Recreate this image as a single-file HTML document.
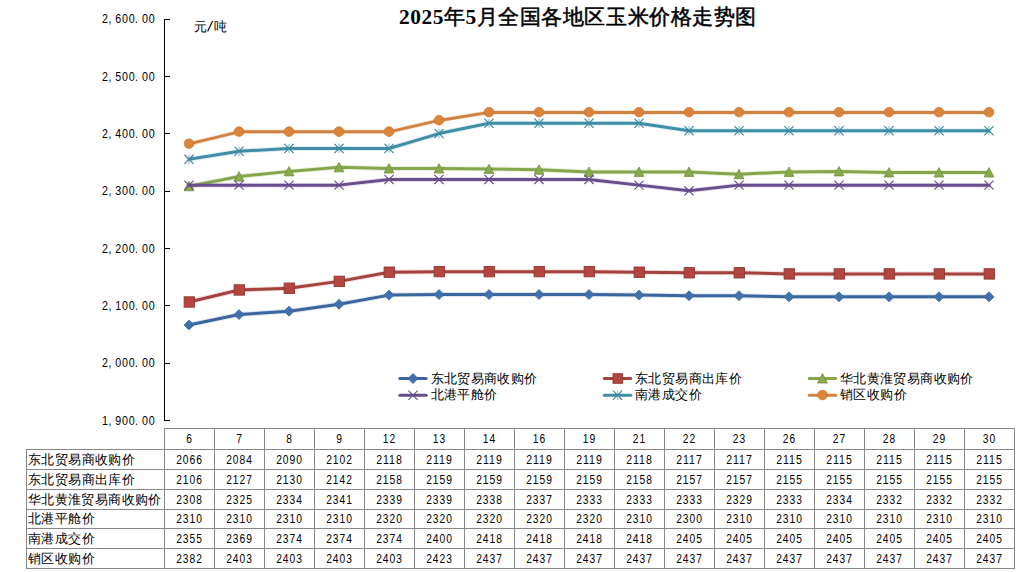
<!DOCTYPE html>
<html><head><meta charset="utf-8"><style>
html,body{margin:0;padding:0;background:#fff;}
body{width:1017px;height:572px;overflow:hidden;position:relative;}
svg{position:absolute;left:0;top:0;}
.t{font-family:"Liberation Serif",serif;font-weight:bold;font-size:21.33px;fill:#000;}
.m{font-family:"Liberation Mono",monospace;font-size:13.5px;fill:#000;}
.n{font-family:"Liberation Sans",sans-serif;font-size:12.6px;fill:#000;}
.c{font-family:"Liberation Sans",sans-serif;font-size:13.33px;fill:#000;}
</style></head><body>
<svg width="1017" height="572" viewBox="0 0 1017 572">
<text class="t" x="578" y="24" text-anchor="middle" letter-spacing="0.55"><tspan>2025</tspan><tspan font-weight="normal" stroke="#000" stroke-width="0.5">年</tspan><tspan>5</tspan><tspan font-weight="normal" stroke="#000" stroke-width="0.5">月全国各地区玉米价格走势图</tspan></text>
<text class="c" x="194" y="31">元</text><path d="M207.6 31.6L212.6 21" stroke="#000" stroke-width="1.1" fill="none"/><text class="c" x="214" y="31">吨</text>
<path d="M164.5 19V420.5" stroke="#000" stroke-width="1" fill="none"/>
<path d="M164 19.5H170" stroke="#000" stroke-width="1"/>
<text class="n" transform="scale(0.85,1)" x="120.02 127.57 135.70 143.55 151.39 158.94 167.08 174.92" y="23">2,600.00</text>
<path d="M164 76.5H170" stroke="#000" stroke-width="1"/>
<text class="n" transform="scale(0.85,1)" x="120.02 127.57 135.70 143.55 151.39 158.94 167.08 174.92" y="81">2,500.00</text>
<path d="M164 133.5H170" stroke="#000" stroke-width="1"/>
<text class="n" transform="scale(0.85,1)" x="120.02 127.57 135.70 143.55 151.39 158.94 167.08 174.92" y="138">2,400.00</text>
<path d="M164 191.5H170" stroke="#000" stroke-width="1"/>
<text class="n" transform="scale(0.85,1)" x="120.02 127.57 135.70 143.55 151.39 158.94 167.08 174.92" y="195">2,300.00</text>
<path d="M164 248.5H170" stroke="#000" stroke-width="1"/>
<text class="n" transform="scale(0.85,1)" x="120.02 127.57 135.70 143.55 151.39 158.94 167.08 174.92" y="253">2,200.00</text>
<path d="M164 305.5H170" stroke="#000" stroke-width="1"/>
<text class="n" transform="scale(0.85,1)" x="120.02 127.57 135.70 143.55 151.39 158.94 167.08 174.92" y="310">2,100.00</text>
<path d="M164 363.5H170" stroke="#000" stroke-width="1"/>
<text class="n" transform="scale(0.85,1)" x="120.02 127.57 135.70 143.55 151.39 158.94 167.08 174.92" y="367">2,000.00</text>
<path d="M164 420.5H170" stroke="#000" stroke-width="1"/>
<text class="n" transform="scale(0.85,1)" x="120.02 127.57 135.70 143.55 151.39 158.94 167.08 174.92" y="425">1,900.00</text>
<polyline points="189.00,324.91 239.00,314.59 289.00,311.16 339.00,304.28 389.00,295.12 439.00,294.54 489.00,294.54 539.00,294.54 589.00,294.54 639.00,295.12 689.00,295.69 739.00,295.69 789.00,296.84 839.00,296.84 889.00,296.84 939.00,296.84 989.00,296.84" fill="none" stroke="#4172ad" stroke-opacity="0.18" stroke-width="5" stroke-linejoin="round" stroke-linecap="round"/>
<polyline points="189.00,324.91 239.00,314.59 289.00,311.16 339.00,304.28 389.00,295.12 439.00,294.54 489.00,294.54 539.00,294.54 589.00,294.54 639.00,295.12 689.00,295.69 739.00,295.69 789.00,296.84 839.00,296.84 889.00,296.84 939.00,296.84 989.00,296.84" fill="none" stroke="#3b669d" stroke-width="3" stroke-linejoin="round" stroke-linecap="round"/>
<path d="M189.00 319.91L194.00 324.91L189.00 329.91L184.00 324.91Z" fill="#4172ad" stroke="#3b669d" stroke-width="0.8"/>
<path d="M239.00 309.59L244.00 314.59L239.00 319.59L234.00 314.59Z" fill="#4172ad" stroke="#3b669d" stroke-width="0.8"/>
<path d="M289.00 306.16L294.00 311.16L289.00 316.16L284.00 311.16Z" fill="#4172ad" stroke="#3b669d" stroke-width="0.8"/>
<path d="M339.00 299.28L344.00 304.28L339.00 309.28L334.00 304.28Z" fill="#4172ad" stroke="#3b669d" stroke-width="0.8"/>
<path d="M389.00 290.12L394.00 295.12L389.00 300.12L384.00 295.12Z" fill="#4172ad" stroke="#3b669d" stroke-width="0.8"/>
<path d="M439.00 289.54L444.00 294.54L439.00 299.54L434.00 294.54Z" fill="#4172ad" stroke="#3b669d" stroke-width="0.8"/>
<path d="M489.00 289.54L494.00 294.54L489.00 299.54L484.00 294.54Z" fill="#4172ad" stroke="#3b669d" stroke-width="0.8"/>
<path d="M539.00 289.54L544.00 294.54L539.00 299.54L534.00 294.54Z" fill="#4172ad" stroke="#3b669d" stroke-width="0.8"/>
<path d="M589.00 289.54L594.00 294.54L589.00 299.54L584.00 294.54Z" fill="#4172ad" stroke="#3b669d" stroke-width="0.8"/>
<path d="M639.00 290.12L644.00 295.12L639.00 300.12L634.00 295.12Z" fill="#4172ad" stroke="#3b669d" stroke-width="0.8"/>
<path d="M689.00 290.69L694.00 295.69L689.00 300.69L684.00 295.69Z" fill="#4172ad" stroke="#3b669d" stroke-width="0.8"/>
<path d="M739.00 290.69L744.00 295.69L739.00 300.69L734.00 295.69Z" fill="#4172ad" stroke="#3b669d" stroke-width="0.8"/>
<path d="M789.00 291.84L794.00 296.84L789.00 301.84L784.00 296.84Z" fill="#4172ad" stroke="#3b669d" stroke-width="0.8"/>
<path d="M839.00 291.84L844.00 296.84L839.00 301.84L834.00 296.84Z" fill="#4172ad" stroke="#3b669d" stroke-width="0.8"/>
<path d="M889.00 291.84L894.00 296.84L889.00 301.84L884.00 296.84Z" fill="#4172ad" stroke="#3b669d" stroke-width="0.8"/>
<path d="M939.00 291.84L944.00 296.84L939.00 301.84L934.00 296.84Z" fill="#4172ad" stroke="#3b669d" stroke-width="0.8"/>
<path d="M989.00 291.84L994.00 296.84L989.00 301.84L984.00 296.84Z" fill="#4172ad" stroke="#3b669d" stroke-width="0.8"/>
<polyline points="189.00,301.99 239.00,289.96 289.00,288.24 339.00,281.37 389.00,272.20 439.00,271.63 489.00,271.63 539.00,271.63 589.00,271.63 639.00,272.20 689.00,272.78 739.00,272.78 789.00,273.92 839.00,273.92 889.00,273.92 939.00,273.92 989.00,273.92" fill="none" stroke="#b4463f" stroke-opacity="0.18" stroke-width="5" stroke-linejoin="round" stroke-linecap="round"/>
<polyline points="189.00,301.99 239.00,289.96 289.00,288.24 339.00,281.37 389.00,272.20 439.00,271.63 489.00,271.63 539.00,271.63 589.00,271.63 639.00,272.20 689.00,272.78 739.00,272.78 789.00,273.92 839.00,273.92 889.00,273.92 939.00,273.92 989.00,273.92" fill="none" stroke="#a4423e" stroke-width="3" stroke-linejoin="round" stroke-linecap="round"/>
<rect x="184.10" y="296.79" width="10.40" height="10.40" fill="#b4463f" stroke="#8e3834" stroke-width="0.9"/>
<rect x="234.10" y="284.76" width="10.40" height="10.40" fill="#b4463f" stroke="#8e3834" stroke-width="0.9"/>
<rect x="284.10" y="283.04" width="10.40" height="10.40" fill="#b4463f" stroke="#8e3834" stroke-width="0.9"/>
<rect x="334.10" y="276.17" width="10.40" height="10.40" fill="#b4463f" stroke="#8e3834" stroke-width="0.9"/>
<rect x="384.10" y="267.00" width="10.40" height="10.40" fill="#b4463f" stroke="#8e3834" stroke-width="0.9"/>
<rect x="434.10" y="266.43" width="10.40" height="10.40" fill="#b4463f" stroke="#8e3834" stroke-width="0.9"/>
<rect x="484.10" y="266.43" width="10.40" height="10.40" fill="#b4463f" stroke="#8e3834" stroke-width="0.9"/>
<rect x="534.10" y="266.43" width="10.40" height="10.40" fill="#b4463f" stroke="#8e3834" stroke-width="0.9"/>
<rect x="584.10" y="266.43" width="10.40" height="10.40" fill="#b4463f" stroke="#8e3834" stroke-width="0.9"/>
<rect x="634.10" y="267.00" width="10.40" height="10.40" fill="#b4463f" stroke="#8e3834" stroke-width="0.9"/>
<rect x="684.10" y="267.58" width="10.40" height="10.40" fill="#b4463f" stroke="#8e3834" stroke-width="0.9"/>
<rect x="734.10" y="267.58" width="10.40" height="10.40" fill="#b4463f" stroke="#8e3834" stroke-width="0.9"/>
<rect x="784.10" y="268.72" width="10.40" height="10.40" fill="#b4463f" stroke="#8e3834" stroke-width="0.9"/>
<rect x="834.10" y="268.72" width="10.40" height="10.40" fill="#b4463f" stroke="#8e3834" stroke-width="0.9"/>
<rect x="884.10" y="268.72" width="10.40" height="10.40" fill="#b4463f" stroke="#8e3834" stroke-width="0.9"/>
<rect x="934.10" y="268.72" width="10.40" height="10.40" fill="#b4463f" stroke="#8e3834" stroke-width="0.9"/>
<rect x="984.10" y="268.72" width="10.40" height="10.40" fill="#b4463f" stroke="#8e3834" stroke-width="0.9"/>
<polyline points="189.00,186.27 239.00,176.54 289.00,171.38 339.00,167.37 389.00,168.52 439.00,168.52 489.00,169.09 539.00,169.66 589.00,171.95 639.00,171.95 689.00,171.95 739.00,174.24 789.00,171.95 839.00,171.38 889.00,172.53 939.00,172.53 989.00,172.53" fill="none" stroke="#89ab4c" stroke-opacity="0.18" stroke-width="5" stroke-linejoin="round" stroke-linecap="round"/>
<polyline points="189.00,186.27 239.00,176.54 289.00,171.38 339.00,167.37 389.00,168.52 439.00,168.52 489.00,169.09 539.00,169.66 589.00,171.95 639.00,171.95 689.00,171.95 739.00,174.24 789.00,171.95 839.00,171.38 889.00,172.53 939.00,172.53 989.00,172.53" fill="none" stroke="#86a64b" stroke-width="3" stroke-linejoin="round" stroke-linecap="round"/>
<path d="M189.00 181.37L193.90 190.77L184.10 190.77Z" fill="#89ab4c" stroke="#728f40" stroke-width="0.8"/>
<path d="M239.00 171.64L243.90 181.04L234.10 181.04Z" fill="#89ab4c" stroke="#728f40" stroke-width="0.8"/>
<path d="M289.00 166.48L293.90 175.88L284.10 175.88Z" fill="#89ab4c" stroke="#728f40" stroke-width="0.8"/>
<path d="M339.00 162.47L343.90 171.87L334.10 171.87Z" fill="#89ab4c" stroke="#728f40" stroke-width="0.8"/>
<path d="M389.00 163.62L393.90 173.02L384.10 173.02Z" fill="#89ab4c" stroke="#728f40" stroke-width="0.8"/>
<path d="M439.00 163.62L443.90 173.02L434.10 173.02Z" fill="#89ab4c" stroke="#728f40" stroke-width="0.8"/>
<path d="M489.00 164.19L493.90 173.59L484.10 173.59Z" fill="#89ab4c" stroke="#728f40" stroke-width="0.8"/>
<path d="M539.00 164.76L543.90 174.16L534.10 174.16Z" fill="#89ab4c" stroke="#728f40" stroke-width="0.8"/>
<path d="M589.00 167.05L593.90 176.45L584.10 176.45Z" fill="#89ab4c" stroke="#728f40" stroke-width="0.8"/>
<path d="M639.00 167.05L643.90 176.45L634.10 176.45Z" fill="#89ab4c" stroke="#728f40" stroke-width="0.8"/>
<path d="M689.00 167.05L693.90 176.45L684.10 176.45Z" fill="#89ab4c" stroke="#728f40" stroke-width="0.8"/>
<path d="M739.00 169.34L743.90 178.74L734.10 178.74Z" fill="#89ab4c" stroke="#728f40" stroke-width="0.8"/>
<path d="M789.00 167.05L793.90 176.45L784.10 176.45Z" fill="#89ab4c" stroke="#728f40" stroke-width="0.8"/>
<path d="M839.00 166.48L843.90 175.88L834.10 175.88Z" fill="#89ab4c" stroke="#728f40" stroke-width="0.8"/>
<path d="M889.00 167.63L893.90 177.03L884.10 177.03Z" fill="#89ab4c" stroke="#728f40" stroke-width="0.8"/>
<path d="M939.00 167.63L943.90 177.03L934.10 177.03Z" fill="#89ab4c" stroke="#728f40" stroke-width="0.8"/>
<path d="M989.00 167.63L993.90 177.03L984.10 177.03Z" fill="#89ab4c" stroke="#728f40" stroke-width="0.8"/>
<polyline points="189.00,185.13 239.00,185.13 289.00,185.13 339.00,185.13 389.00,179.40 439.00,179.40 489.00,179.40 539.00,179.40 589.00,179.40 639.00,185.13 689.00,190.86 739.00,185.13 789.00,185.13 839.00,185.13 889.00,185.13 939.00,185.13 989.00,185.13" fill="none" stroke="#7d60a0" stroke-opacity="0.18" stroke-width="5" stroke-linejoin="round" stroke-linecap="round"/>
<polyline points="189.00,185.13 239.00,185.13 289.00,185.13 339.00,185.13 389.00,179.40 439.00,179.40 489.00,179.40 539.00,179.40 589.00,179.40 639.00,185.13 689.00,190.86 739.00,185.13 789.00,185.13 839.00,185.13 889.00,185.13 939.00,185.13 989.00,185.13" fill="none" stroke="#684d8b" stroke-width="3" stroke-linejoin="round" stroke-linecap="round"/>
<path d="M184.40 180.53L193.60 189.73M193.60 180.53L184.40 189.73" stroke="#684d8b" stroke-width="1.1" fill="none"/>
<path d="M234.40 180.53L243.60 189.73M243.60 180.53L234.40 189.73" stroke="#684d8b" stroke-width="1.1" fill="none"/>
<path d="M284.40 180.53L293.60 189.73M293.60 180.53L284.40 189.73" stroke="#684d8b" stroke-width="1.1" fill="none"/>
<path d="M334.40 180.53L343.60 189.73M343.60 180.53L334.40 189.73" stroke="#684d8b" stroke-width="1.1" fill="none"/>
<path d="M384.40 174.80L393.60 184.00M393.60 174.80L384.40 184.00" stroke="#684d8b" stroke-width="1.1" fill="none"/>
<path d="M434.40 174.80L443.60 184.00M443.60 174.80L434.40 184.00" stroke="#684d8b" stroke-width="1.1" fill="none"/>
<path d="M484.40 174.80L493.60 184.00M493.60 174.80L484.40 184.00" stroke="#684d8b" stroke-width="1.1" fill="none"/>
<path d="M534.40 174.80L543.60 184.00M543.60 174.80L534.40 184.00" stroke="#684d8b" stroke-width="1.1" fill="none"/>
<path d="M584.40 174.80L593.60 184.00M593.60 174.80L584.40 184.00" stroke="#684d8b" stroke-width="1.1" fill="none"/>
<path d="M634.40 180.53L643.60 189.73M643.60 180.53L634.40 189.73" stroke="#684d8b" stroke-width="1.1" fill="none"/>
<path d="M684.40 186.26L693.60 195.46M693.60 186.26L684.40 195.46" stroke="#684d8b" stroke-width="1.1" fill="none"/>
<path d="M734.40 180.53L743.60 189.73M743.60 180.53L734.40 189.73" stroke="#684d8b" stroke-width="1.1" fill="none"/>
<path d="M784.40 180.53L793.60 189.73M793.60 180.53L784.40 189.73" stroke="#684d8b" stroke-width="1.1" fill="none"/>
<path d="M834.40 180.53L843.60 189.73M843.60 180.53L834.40 189.73" stroke="#684d8b" stroke-width="1.1" fill="none"/>
<path d="M884.40 180.53L893.60 189.73M893.60 180.53L884.40 189.73" stroke="#684d8b" stroke-width="1.1" fill="none"/>
<path d="M934.40 180.53L943.60 189.73M943.60 180.53L934.40 189.73" stroke="#684d8b" stroke-width="1.1" fill="none"/>
<path d="M984.40 180.53L993.60 189.73M993.60 180.53L984.40 189.73" stroke="#684d8b" stroke-width="1.1" fill="none"/>
<polyline points="189.00,159.35 239.00,151.33 289.00,148.47 339.00,148.47 389.00,148.47 439.00,133.57 489.00,123.26 539.00,123.26 589.00,123.26 639.00,123.26 689.00,130.71 739.00,130.71 789.00,130.71 839.00,130.71 889.00,130.71 939.00,130.71 989.00,130.71" fill="none" stroke="#4bacc6" stroke-opacity="0.18" stroke-width="5" stroke-linejoin="round" stroke-linecap="round"/>
<polyline points="189.00,159.35 239.00,151.33 289.00,148.47 339.00,148.47 389.00,148.47 439.00,133.57 489.00,123.26 539.00,123.26 589.00,123.26 639.00,123.26 689.00,130.71 739.00,130.71 789.00,130.71 839.00,130.71 889.00,130.71 939.00,130.71 989.00,130.71" fill="none" stroke="#3f8ea5" stroke-width="3" stroke-linejoin="round" stroke-linecap="round"/>
<path d="M189.00 154.75L189.00 163.95" stroke="#8ccbdd" stroke-width="1.3" fill="none"/><path d="M184.40 154.75L193.60 163.95M193.60 154.75L184.40 163.95" stroke="#3d8297" stroke-width="1.1" fill="none"/>
<path d="M239.00 146.73L239.00 155.93" stroke="#8ccbdd" stroke-width="1.3" fill="none"/><path d="M234.40 146.73L243.60 155.93M243.60 146.73L234.40 155.93" stroke="#3d8297" stroke-width="1.1" fill="none"/>
<path d="M289.00 143.87L289.00 153.07" stroke="#8ccbdd" stroke-width="1.3" fill="none"/><path d="M284.40 143.87L293.60 153.07M293.60 143.87L284.40 153.07" stroke="#3d8297" stroke-width="1.1" fill="none"/>
<path d="M339.00 143.87L339.00 153.07" stroke="#8ccbdd" stroke-width="1.3" fill="none"/><path d="M334.40 143.87L343.60 153.07M343.60 143.87L334.40 153.07" stroke="#3d8297" stroke-width="1.1" fill="none"/>
<path d="M389.00 143.87L389.00 153.07" stroke="#8ccbdd" stroke-width="1.3" fill="none"/><path d="M384.40 143.87L393.60 153.07M393.60 143.87L384.40 153.07" stroke="#3d8297" stroke-width="1.1" fill="none"/>
<path d="M439.00 128.97L439.00 138.17" stroke="#8ccbdd" stroke-width="1.3" fill="none"/><path d="M434.40 128.97L443.60 138.17M443.60 128.97L434.40 138.17" stroke="#3d8297" stroke-width="1.1" fill="none"/>
<path d="M489.00 118.66L489.00 127.86" stroke="#8ccbdd" stroke-width="1.3" fill="none"/><path d="M484.40 118.66L493.60 127.86M493.60 118.66L484.40 127.86" stroke="#3d8297" stroke-width="1.1" fill="none"/>
<path d="M539.00 118.66L539.00 127.86" stroke="#8ccbdd" stroke-width="1.3" fill="none"/><path d="M534.40 118.66L543.60 127.86M543.60 118.66L534.40 127.86" stroke="#3d8297" stroke-width="1.1" fill="none"/>
<path d="M589.00 118.66L589.00 127.86" stroke="#8ccbdd" stroke-width="1.3" fill="none"/><path d="M584.40 118.66L593.60 127.86M593.60 118.66L584.40 127.86" stroke="#3d8297" stroke-width="1.1" fill="none"/>
<path d="M639.00 118.66L639.00 127.86" stroke="#8ccbdd" stroke-width="1.3" fill="none"/><path d="M634.40 118.66L643.60 127.86M643.60 118.66L634.40 127.86" stroke="#3d8297" stroke-width="1.1" fill="none"/>
<path d="M689.00 126.11L689.00 135.31" stroke="#8ccbdd" stroke-width="1.3" fill="none"/><path d="M684.40 126.11L693.60 135.31M693.60 126.11L684.40 135.31" stroke="#3d8297" stroke-width="1.1" fill="none"/>
<path d="M739.00 126.11L739.00 135.31" stroke="#8ccbdd" stroke-width="1.3" fill="none"/><path d="M734.40 126.11L743.60 135.31M743.60 126.11L734.40 135.31" stroke="#3d8297" stroke-width="1.1" fill="none"/>
<path d="M789.00 126.11L789.00 135.31" stroke="#8ccbdd" stroke-width="1.3" fill="none"/><path d="M784.40 126.11L793.60 135.31M793.60 126.11L784.40 135.31" stroke="#3d8297" stroke-width="1.1" fill="none"/>
<path d="M839.00 126.11L839.00 135.31" stroke="#8ccbdd" stroke-width="1.3" fill="none"/><path d="M834.40 126.11L843.60 135.31M843.60 126.11L834.40 135.31" stroke="#3d8297" stroke-width="1.1" fill="none"/>
<path d="M889.00 126.11L889.00 135.31" stroke="#8ccbdd" stroke-width="1.3" fill="none"/><path d="M884.40 126.11L893.60 135.31M893.60 126.11L884.40 135.31" stroke="#3d8297" stroke-width="1.1" fill="none"/>
<path d="M939.00 126.11L939.00 135.31" stroke="#8ccbdd" stroke-width="1.3" fill="none"/><path d="M934.40 126.11L943.60 135.31M943.60 126.11L934.40 135.31" stroke="#3d8297" stroke-width="1.1" fill="none"/>
<path d="M989.00 126.11L989.00 135.31" stroke="#8ccbdd" stroke-width="1.3" fill="none"/><path d="M984.40 126.11L993.60 135.31M993.60 126.11L984.40 135.31" stroke="#3d8297" stroke-width="1.1" fill="none"/>
<polyline points="189.00,143.88 239.00,131.85 289.00,131.85 339.00,131.85 389.00,131.85 439.00,120.40 489.00,112.38 539.00,112.38 589.00,112.38 639.00,112.38 689.00,112.38 739.00,112.38 789.00,112.38 839.00,112.38 889.00,112.38 939.00,112.38 989.00,112.38" fill="none" stroke="#de8439" stroke-opacity="0.18" stroke-width="5" stroke-linejoin="round" stroke-linecap="round"/>
<polyline points="189.00,143.88 239.00,131.85 289.00,131.85 339.00,131.85 389.00,131.85 439.00,120.40 489.00,112.38 539.00,112.38 589.00,112.38 639.00,112.38 689.00,112.38 739.00,112.38 789.00,112.38 839.00,112.38 889.00,112.38 939.00,112.38 989.00,112.38" fill="none" stroke="#cf8242" stroke-width="3" stroke-linejoin="round" stroke-linecap="round"/>
<circle cx="189.00" cy="143.68" r="4.8" fill="#de8439" stroke="#c0732f" stroke-width="0.7"/>
<circle cx="239.00" cy="131.65" r="4.8" fill="#de8439" stroke="#c0732f" stroke-width="0.7"/>
<circle cx="289.00" cy="131.65" r="4.8" fill="#de8439" stroke="#c0732f" stroke-width="0.7"/>
<circle cx="339.00" cy="131.65" r="4.8" fill="#de8439" stroke="#c0732f" stroke-width="0.7"/>
<circle cx="389.00" cy="131.65" r="4.8" fill="#de8439" stroke="#c0732f" stroke-width="0.7"/>
<circle cx="439.00" cy="120.20" r="4.8" fill="#de8439" stroke="#c0732f" stroke-width="0.7"/>
<circle cx="489.00" cy="112.18" r="4.8" fill="#de8439" stroke="#c0732f" stroke-width="0.7"/>
<circle cx="539.00" cy="112.18" r="4.8" fill="#de8439" stroke="#c0732f" stroke-width="0.7"/>
<circle cx="589.00" cy="112.18" r="4.8" fill="#de8439" stroke="#c0732f" stroke-width="0.7"/>
<circle cx="639.00" cy="112.18" r="4.8" fill="#de8439" stroke="#c0732f" stroke-width="0.7"/>
<circle cx="689.00" cy="112.18" r="4.8" fill="#de8439" stroke="#c0732f" stroke-width="0.7"/>
<circle cx="739.00" cy="112.18" r="4.8" fill="#de8439" stroke="#c0732f" stroke-width="0.7"/>
<circle cx="789.00" cy="112.18" r="4.8" fill="#de8439" stroke="#c0732f" stroke-width="0.7"/>
<circle cx="839.00" cy="112.18" r="4.8" fill="#de8439" stroke="#c0732f" stroke-width="0.7"/>
<circle cx="889.00" cy="112.18" r="4.8" fill="#de8439" stroke="#c0732f" stroke-width="0.7"/>
<circle cx="939.00" cy="112.18" r="4.8" fill="#de8439" stroke="#c0732f" stroke-width="0.7"/>
<circle cx="989.00" cy="112.18" r="4.8" fill="#de8439" stroke="#c0732f" stroke-width="0.7"/>
<path d="M399.8 378.5H426.2" stroke="#3b669d" stroke-width="3" stroke-linecap="round"/>
<path d="M413.00 373.50L418.00 378.50L413.00 383.50L408.00 378.50Z" fill="#4172ad" stroke="#3b669d" stroke-width="0.8"/>
<text class="c" x="430.5" y="382.7" textLength="106.66" lengthAdjust="spacing">东北贸易商收购价</text>
<path d="M604.3 378.5H630.7" stroke="#a4423e" stroke-width="3" stroke-linecap="round"/>
<rect x="613.00" y="373.70" width="9.60" height="9.60" fill="#b4463f" stroke="#8e3834" stroke-width="0.9"/>
<text class="c" x="635" y="382.7" textLength="106.66" lengthAdjust="spacing">东北贸易商出库价</text>
<path d="M809.3 378.5H835.7" stroke="#86a64b" stroke-width="3" stroke-linecap="round"/>
<path d="M822.50 373.60L827.40 383.00L817.60 383.00Z" fill="#89ab4c" stroke="#728f40" stroke-width="0.8"/>
<text class="c" x="840" y="382.7" textLength="133.33" lengthAdjust="spacing">华北黄淮贸易商收购价</text>
<path d="M399.8 395.2H426.2" stroke="#684d8b" stroke-width="3" stroke-linecap="round"/>
<path d="M408.40 390.60L417.60 399.80M417.60 390.60L408.40 399.80" stroke="#684d8b" stroke-width="1.1" fill="none"/>
<text class="c" x="430.5" y="399.4" textLength="66.67" lengthAdjust="spacing">北港平舱价</text>
<path d="M604.3 395.2H630.7" stroke="#3f8ea5" stroke-width="3" stroke-linecap="round"/>
<path d="M617.50 390.60L617.50 399.80" stroke="#8ccbdd" stroke-width="1.3" fill="none"/><path d="M612.90 390.60L622.10 399.80M622.10 390.60L612.90 399.80" stroke="#3d8297" stroke-width="1.1" fill="none"/>
<text class="c" x="635" y="399.4" textLength="66.67" lengthAdjust="spacing">南港成交价</text>
<path d="M809.3 395.2H835.7" stroke="#cf8242" stroke-width="3" stroke-linecap="round"/>
<circle cx="822.50" cy="395.00" r="4.8" fill="#de8439" stroke="#c0732f" stroke-width="0.7"/>
<text class="c" x="840" y="399.4" textLength="66.67" lengthAdjust="spacing">销区收购价</text>
<g stroke="#878787" stroke-width="1" fill="none">
<path d="M164 428.5H1015"/>
<path d="M26 449.5H1015"/>
<path d="M26 469.5H1015"/>
<path d="M26 489.5H1015"/>
<path d="M26 509.5H1015"/>
<path d="M26 528.5H1015"/>
<path d="M26 548.5H1015"/>
<path d="M26 568.5H1015"/>
<path d="M26.5 449.0V569.0"/>
<path d="M164.5 428.0V569.0"/>
<path d="M214.5 428.0V569.0"/>
<path d="M264.5 428.0V569.0"/>
<path d="M314.5 428.0V569.0"/>
<path d="M364.5 428.0V569.0"/>
<path d="M414.5 428.0V569.0"/>
<path d="M464.5 428.0V569.0"/>
<path d="M514.5 428.0V569.0"/>
<path d="M564.5 428.0V569.0"/>
<path d="M614.5 428.0V569.0"/>
<path d="M664.5 428.0V569.0"/>
<path d="M714.5 428.0V569.0"/>
<path d="M764.5 428.0V569.0"/>
<path d="M814.5 428.0V569.0"/>
<path d="M864.5 428.0V569.0"/>
<path d="M914.5 428.0V569.0"/>
<path d="M964.5 428.0V569.0"/>
<path d="M1014.5 428.0V569.0"/>
</g>
<text class="n" x="189.5" y="443.0" text-anchor="middle" letter-spacing="1.2" textLength="6.67" lengthAdjust="spacingAndGlyphs">6</text>
<text class="n" x="239.5" y="443.0" text-anchor="middle" letter-spacing="1.2" textLength="6.67" lengthAdjust="spacingAndGlyphs">7</text>
<text class="n" x="289.5" y="443.0" text-anchor="middle" letter-spacing="1.2" textLength="6.67" lengthAdjust="spacingAndGlyphs">8</text>
<text class="n" x="339.5" y="443.0" text-anchor="middle" letter-spacing="1.2" textLength="6.67" lengthAdjust="spacingAndGlyphs">9</text>
<text class="n" x="389.5" y="443.0" text-anchor="middle" letter-spacing="1.2" textLength="13.33" lengthAdjust="spacingAndGlyphs">12</text>
<text class="n" x="439.5" y="443.0" text-anchor="middle" letter-spacing="1.2" textLength="13.33" lengthAdjust="spacingAndGlyphs">13</text>
<text class="n" x="489.5" y="443.0" text-anchor="middle" letter-spacing="1.2" textLength="13.33" lengthAdjust="spacingAndGlyphs">14</text>
<text class="n" x="539.5" y="443.0" text-anchor="middle" letter-spacing="1.2" textLength="13.33" lengthAdjust="spacingAndGlyphs">16</text>
<text class="n" x="589.5" y="443.0" text-anchor="middle" letter-spacing="1.2" textLength="13.33" lengthAdjust="spacingAndGlyphs">19</text>
<text class="n" x="639.5" y="443.0" text-anchor="middle" letter-spacing="1.2" textLength="13.33" lengthAdjust="spacingAndGlyphs">21</text>
<text class="n" x="689.5" y="443.0" text-anchor="middle" letter-spacing="1.2" textLength="13.33" lengthAdjust="spacingAndGlyphs">22</text>
<text class="n" x="739.5" y="443.0" text-anchor="middle" letter-spacing="1.2" textLength="13.33" lengthAdjust="spacingAndGlyphs">23</text>
<text class="n" x="789.5" y="443.0" text-anchor="middle" letter-spacing="1.2" textLength="13.33" lengthAdjust="spacingAndGlyphs">26</text>
<text class="n" x="839.5" y="443.0" text-anchor="middle" letter-spacing="1.2" textLength="13.33" lengthAdjust="spacingAndGlyphs">27</text>
<text class="n" x="889.5" y="443.0" text-anchor="middle" letter-spacing="1.2" textLength="13.33" lengthAdjust="spacingAndGlyphs">28</text>
<text class="n" x="939.5" y="443.0" text-anchor="middle" letter-spacing="1.2" textLength="13.33" lengthAdjust="spacingAndGlyphs">29</text>
<text class="n" x="989.5" y="443.0" text-anchor="middle" letter-spacing="1.2" textLength="13.33" lengthAdjust="spacingAndGlyphs">30</text>
<text class="c" x="28" y="463.5" textLength="106.66" lengthAdjust="spacing">东北贸易商收购价</text>
<text class="n" x="189.5" y="463.5" text-anchor="middle" letter-spacing="1.2" textLength="26.67" lengthAdjust="spacingAndGlyphs">2066</text>
<text class="n" x="239.5" y="463.5" text-anchor="middle" letter-spacing="1.2" textLength="26.67" lengthAdjust="spacingAndGlyphs">2084</text>
<text class="n" x="289.5" y="463.5" text-anchor="middle" letter-spacing="1.2" textLength="26.67" lengthAdjust="spacingAndGlyphs">2090</text>
<text class="n" x="339.5" y="463.5" text-anchor="middle" letter-spacing="1.2" textLength="26.67" lengthAdjust="spacingAndGlyphs">2102</text>
<text class="n" x="389.5" y="463.5" text-anchor="middle" letter-spacing="1.2" textLength="26.67" lengthAdjust="spacingAndGlyphs">2118</text>
<text class="n" x="439.5" y="463.5" text-anchor="middle" letter-spacing="1.2" textLength="26.67" lengthAdjust="spacingAndGlyphs">2119</text>
<text class="n" x="489.5" y="463.5" text-anchor="middle" letter-spacing="1.2" textLength="26.67" lengthAdjust="spacingAndGlyphs">2119</text>
<text class="n" x="539.5" y="463.5" text-anchor="middle" letter-spacing="1.2" textLength="26.67" lengthAdjust="spacingAndGlyphs">2119</text>
<text class="n" x="589.5" y="463.5" text-anchor="middle" letter-spacing="1.2" textLength="26.67" lengthAdjust="spacingAndGlyphs">2119</text>
<text class="n" x="639.5" y="463.5" text-anchor="middle" letter-spacing="1.2" textLength="26.67" lengthAdjust="spacingAndGlyphs">2118</text>
<text class="n" x="689.5" y="463.5" text-anchor="middle" letter-spacing="1.2" textLength="26.67" lengthAdjust="spacingAndGlyphs">2117</text>
<text class="n" x="739.5" y="463.5" text-anchor="middle" letter-spacing="1.2" textLength="26.67" lengthAdjust="spacingAndGlyphs">2117</text>
<text class="n" x="789.5" y="463.5" text-anchor="middle" letter-spacing="1.2" textLength="26.67" lengthAdjust="spacingAndGlyphs">2115</text>
<text class="n" x="839.5" y="463.5" text-anchor="middle" letter-spacing="1.2" textLength="26.67" lengthAdjust="spacingAndGlyphs">2115</text>
<text class="n" x="889.5" y="463.5" text-anchor="middle" letter-spacing="1.2" textLength="26.67" lengthAdjust="spacingAndGlyphs">2115</text>
<text class="n" x="939.5" y="463.5" text-anchor="middle" letter-spacing="1.2" textLength="26.67" lengthAdjust="spacingAndGlyphs">2115</text>
<text class="n" x="989.5" y="463.5" text-anchor="middle" letter-spacing="1.2" textLength="26.67" lengthAdjust="spacingAndGlyphs">2115</text>
<text class="c" x="28" y="483.5" textLength="106.66" lengthAdjust="spacing">东北贸易商出库价</text>
<text class="n" x="189.5" y="483.5" text-anchor="middle" letter-spacing="1.2" textLength="26.67" lengthAdjust="spacingAndGlyphs">2106</text>
<text class="n" x="239.5" y="483.5" text-anchor="middle" letter-spacing="1.2" textLength="26.67" lengthAdjust="spacingAndGlyphs">2127</text>
<text class="n" x="289.5" y="483.5" text-anchor="middle" letter-spacing="1.2" textLength="26.67" lengthAdjust="spacingAndGlyphs">2130</text>
<text class="n" x="339.5" y="483.5" text-anchor="middle" letter-spacing="1.2" textLength="26.67" lengthAdjust="spacingAndGlyphs">2142</text>
<text class="n" x="389.5" y="483.5" text-anchor="middle" letter-spacing="1.2" textLength="26.67" lengthAdjust="spacingAndGlyphs">2158</text>
<text class="n" x="439.5" y="483.5" text-anchor="middle" letter-spacing="1.2" textLength="26.67" lengthAdjust="spacingAndGlyphs">2159</text>
<text class="n" x="489.5" y="483.5" text-anchor="middle" letter-spacing="1.2" textLength="26.67" lengthAdjust="spacingAndGlyphs">2159</text>
<text class="n" x="539.5" y="483.5" text-anchor="middle" letter-spacing="1.2" textLength="26.67" lengthAdjust="spacingAndGlyphs">2159</text>
<text class="n" x="589.5" y="483.5" text-anchor="middle" letter-spacing="1.2" textLength="26.67" lengthAdjust="spacingAndGlyphs">2159</text>
<text class="n" x="639.5" y="483.5" text-anchor="middle" letter-spacing="1.2" textLength="26.67" lengthAdjust="spacingAndGlyphs">2158</text>
<text class="n" x="689.5" y="483.5" text-anchor="middle" letter-spacing="1.2" textLength="26.67" lengthAdjust="spacingAndGlyphs">2157</text>
<text class="n" x="739.5" y="483.5" text-anchor="middle" letter-spacing="1.2" textLength="26.67" lengthAdjust="spacingAndGlyphs">2157</text>
<text class="n" x="789.5" y="483.5" text-anchor="middle" letter-spacing="1.2" textLength="26.67" lengthAdjust="spacingAndGlyphs">2155</text>
<text class="n" x="839.5" y="483.5" text-anchor="middle" letter-spacing="1.2" textLength="26.67" lengthAdjust="spacingAndGlyphs">2155</text>
<text class="n" x="889.5" y="483.5" text-anchor="middle" letter-spacing="1.2" textLength="26.67" lengthAdjust="spacingAndGlyphs">2155</text>
<text class="n" x="939.5" y="483.5" text-anchor="middle" letter-spacing="1.2" textLength="26.67" lengthAdjust="spacingAndGlyphs">2155</text>
<text class="n" x="989.5" y="483.5" text-anchor="middle" letter-spacing="1.2" textLength="26.67" lengthAdjust="spacingAndGlyphs">2155</text>
<text class="c" x="28" y="503.5" textLength="133.33" lengthAdjust="spacing">华北黄淮贸易商收购价</text>
<text class="n" x="189.5" y="503.5" text-anchor="middle" letter-spacing="1.2" textLength="26.67" lengthAdjust="spacingAndGlyphs">2308</text>
<text class="n" x="239.5" y="503.5" text-anchor="middle" letter-spacing="1.2" textLength="26.67" lengthAdjust="spacingAndGlyphs">2325</text>
<text class="n" x="289.5" y="503.5" text-anchor="middle" letter-spacing="1.2" textLength="26.67" lengthAdjust="spacingAndGlyphs">2334</text>
<text class="n" x="339.5" y="503.5" text-anchor="middle" letter-spacing="1.2" textLength="26.67" lengthAdjust="spacingAndGlyphs">2341</text>
<text class="n" x="389.5" y="503.5" text-anchor="middle" letter-spacing="1.2" textLength="26.67" lengthAdjust="spacingAndGlyphs">2339</text>
<text class="n" x="439.5" y="503.5" text-anchor="middle" letter-spacing="1.2" textLength="26.67" lengthAdjust="spacingAndGlyphs">2339</text>
<text class="n" x="489.5" y="503.5" text-anchor="middle" letter-spacing="1.2" textLength="26.67" lengthAdjust="spacingAndGlyphs">2338</text>
<text class="n" x="539.5" y="503.5" text-anchor="middle" letter-spacing="1.2" textLength="26.67" lengthAdjust="spacingAndGlyphs">2337</text>
<text class="n" x="589.5" y="503.5" text-anchor="middle" letter-spacing="1.2" textLength="26.67" lengthAdjust="spacingAndGlyphs">2333</text>
<text class="n" x="639.5" y="503.5" text-anchor="middle" letter-spacing="1.2" textLength="26.67" lengthAdjust="spacingAndGlyphs">2333</text>
<text class="n" x="689.5" y="503.5" text-anchor="middle" letter-spacing="1.2" textLength="26.67" lengthAdjust="spacingAndGlyphs">2333</text>
<text class="n" x="739.5" y="503.5" text-anchor="middle" letter-spacing="1.2" textLength="26.67" lengthAdjust="spacingAndGlyphs">2329</text>
<text class="n" x="789.5" y="503.5" text-anchor="middle" letter-spacing="1.2" textLength="26.67" lengthAdjust="spacingAndGlyphs">2333</text>
<text class="n" x="839.5" y="503.5" text-anchor="middle" letter-spacing="1.2" textLength="26.67" lengthAdjust="spacingAndGlyphs">2334</text>
<text class="n" x="889.5" y="503.5" text-anchor="middle" letter-spacing="1.2" textLength="26.67" lengthAdjust="spacingAndGlyphs">2332</text>
<text class="n" x="939.5" y="503.5" text-anchor="middle" letter-spacing="1.2" textLength="26.67" lengthAdjust="spacingAndGlyphs">2332</text>
<text class="n" x="989.5" y="503.5" text-anchor="middle" letter-spacing="1.2" textLength="26.67" lengthAdjust="spacingAndGlyphs">2332</text>
<text class="c" x="28" y="523.0" textLength="66.67" lengthAdjust="spacing">北港平舱价</text>
<text class="n" x="189.5" y="523.0" text-anchor="middle" letter-spacing="1.2" textLength="26.67" lengthAdjust="spacingAndGlyphs">2310</text>
<text class="n" x="239.5" y="523.0" text-anchor="middle" letter-spacing="1.2" textLength="26.67" lengthAdjust="spacingAndGlyphs">2310</text>
<text class="n" x="289.5" y="523.0" text-anchor="middle" letter-spacing="1.2" textLength="26.67" lengthAdjust="spacingAndGlyphs">2310</text>
<text class="n" x="339.5" y="523.0" text-anchor="middle" letter-spacing="1.2" textLength="26.67" lengthAdjust="spacingAndGlyphs">2310</text>
<text class="n" x="389.5" y="523.0" text-anchor="middle" letter-spacing="1.2" textLength="26.67" lengthAdjust="spacingAndGlyphs">2320</text>
<text class="n" x="439.5" y="523.0" text-anchor="middle" letter-spacing="1.2" textLength="26.67" lengthAdjust="spacingAndGlyphs">2320</text>
<text class="n" x="489.5" y="523.0" text-anchor="middle" letter-spacing="1.2" textLength="26.67" lengthAdjust="spacingAndGlyphs">2320</text>
<text class="n" x="539.5" y="523.0" text-anchor="middle" letter-spacing="1.2" textLength="26.67" lengthAdjust="spacingAndGlyphs">2320</text>
<text class="n" x="589.5" y="523.0" text-anchor="middle" letter-spacing="1.2" textLength="26.67" lengthAdjust="spacingAndGlyphs">2320</text>
<text class="n" x="639.5" y="523.0" text-anchor="middle" letter-spacing="1.2" textLength="26.67" lengthAdjust="spacingAndGlyphs">2310</text>
<text class="n" x="689.5" y="523.0" text-anchor="middle" letter-spacing="1.2" textLength="26.67" lengthAdjust="spacingAndGlyphs">2300</text>
<text class="n" x="739.5" y="523.0" text-anchor="middle" letter-spacing="1.2" textLength="26.67" lengthAdjust="spacingAndGlyphs">2310</text>
<text class="n" x="789.5" y="523.0" text-anchor="middle" letter-spacing="1.2" textLength="26.67" lengthAdjust="spacingAndGlyphs">2310</text>
<text class="n" x="839.5" y="523.0" text-anchor="middle" letter-spacing="1.2" textLength="26.67" lengthAdjust="spacingAndGlyphs">2310</text>
<text class="n" x="889.5" y="523.0" text-anchor="middle" letter-spacing="1.2" textLength="26.67" lengthAdjust="spacingAndGlyphs">2310</text>
<text class="n" x="939.5" y="523.0" text-anchor="middle" letter-spacing="1.2" textLength="26.67" lengthAdjust="spacingAndGlyphs">2310</text>
<text class="n" x="989.5" y="523.0" text-anchor="middle" letter-spacing="1.2" textLength="26.67" lengthAdjust="spacingAndGlyphs">2310</text>
<text class="c" x="28" y="542.5" textLength="66.67" lengthAdjust="spacing">南港成交价</text>
<text class="n" x="189.5" y="542.5" text-anchor="middle" letter-spacing="1.2" textLength="26.67" lengthAdjust="spacingAndGlyphs">2355</text>
<text class="n" x="239.5" y="542.5" text-anchor="middle" letter-spacing="1.2" textLength="26.67" lengthAdjust="spacingAndGlyphs">2369</text>
<text class="n" x="289.5" y="542.5" text-anchor="middle" letter-spacing="1.2" textLength="26.67" lengthAdjust="spacingAndGlyphs">2374</text>
<text class="n" x="339.5" y="542.5" text-anchor="middle" letter-spacing="1.2" textLength="26.67" lengthAdjust="spacingAndGlyphs">2374</text>
<text class="n" x="389.5" y="542.5" text-anchor="middle" letter-spacing="1.2" textLength="26.67" lengthAdjust="spacingAndGlyphs">2374</text>
<text class="n" x="439.5" y="542.5" text-anchor="middle" letter-spacing="1.2" textLength="26.67" lengthAdjust="spacingAndGlyphs">2400</text>
<text class="n" x="489.5" y="542.5" text-anchor="middle" letter-spacing="1.2" textLength="26.67" lengthAdjust="spacingAndGlyphs">2418</text>
<text class="n" x="539.5" y="542.5" text-anchor="middle" letter-spacing="1.2" textLength="26.67" lengthAdjust="spacingAndGlyphs">2418</text>
<text class="n" x="589.5" y="542.5" text-anchor="middle" letter-spacing="1.2" textLength="26.67" lengthAdjust="spacingAndGlyphs">2418</text>
<text class="n" x="639.5" y="542.5" text-anchor="middle" letter-spacing="1.2" textLength="26.67" lengthAdjust="spacingAndGlyphs">2418</text>
<text class="n" x="689.5" y="542.5" text-anchor="middle" letter-spacing="1.2" textLength="26.67" lengthAdjust="spacingAndGlyphs">2405</text>
<text class="n" x="739.5" y="542.5" text-anchor="middle" letter-spacing="1.2" textLength="26.67" lengthAdjust="spacingAndGlyphs">2405</text>
<text class="n" x="789.5" y="542.5" text-anchor="middle" letter-spacing="1.2" textLength="26.67" lengthAdjust="spacingAndGlyphs">2405</text>
<text class="n" x="839.5" y="542.5" text-anchor="middle" letter-spacing="1.2" textLength="26.67" lengthAdjust="spacingAndGlyphs">2405</text>
<text class="n" x="889.5" y="542.5" text-anchor="middle" letter-spacing="1.2" textLength="26.67" lengthAdjust="spacingAndGlyphs">2405</text>
<text class="n" x="939.5" y="542.5" text-anchor="middle" letter-spacing="1.2" textLength="26.67" lengthAdjust="spacingAndGlyphs">2405</text>
<text class="n" x="989.5" y="542.5" text-anchor="middle" letter-spacing="1.2" textLength="26.67" lengthAdjust="spacingAndGlyphs">2405</text>
<text class="c" x="28" y="562.5" textLength="66.67" lengthAdjust="spacing">销区收购价</text>
<text class="n" x="189.5" y="562.5" text-anchor="middle" letter-spacing="1.2" textLength="26.67" lengthAdjust="spacingAndGlyphs">2382</text>
<text class="n" x="239.5" y="562.5" text-anchor="middle" letter-spacing="1.2" textLength="26.67" lengthAdjust="spacingAndGlyphs">2403</text>
<text class="n" x="289.5" y="562.5" text-anchor="middle" letter-spacing="1.2" textLength="26.67" lengthAdjust="spacingAndGlyphs">2403</text>
<text class="n" x="339.5" y="562.5" text-anchor="middle" letter-spacing="1.2" textLength="26.67" lengthAdjust="spacingAndGlyphs">2403</text>
<text class="n" x="389.5" y="562.5" text-anchor="middle" letter-spacing="1.2" textLength="26.67" lengthAdjust="spacingAndGlyphs">2403</text>
<text class="n" x="439.5" y="562.5" text-anchor="middle" letter-spacing="1.2" textLength="26.67" lengthAdjust="spacingAndGlyphs">2423</text>
<text class="n" x="489.5" y="562.5" text-anchor="middle" letter-spacing="1.2" textLength="26.67" lengthAdjust="spacingAndGlyphs">2437</text>
<text class="n" x="539.5" y="562.5" text-anchor="middle" letter-spacing="1.2" textLength="26.67" lengthAdjust="spacingAndGlyphs">2437</text>
<text class="n" x="589.5" y="562.5" text-anchor="middle" letter-spacing="1.2" textLength="26.67" lengthAdjust="spacingAndGlyphs">2437</text>
<text class="n" x="639.5" y="562.5" text-anchor="middle" letter-spacing="1.2" textLength="26.67" lengthAdjust="spacingAndGlyphs">2437</text>
<text class="n" x="689.5" y="562.5" text-anchor="middle" letter-spacing="1.2" textLength="26.67" lengthAdjust="spacingAndGlyphs">2437</text>
<text class="n" x="739.5" y="562.5" text-anchor="middle" letter-spacing="1.2" textLength="26.67" lengthAdjust="spacingAndGlyphs">2437</text>
<text class="n" x="789.5" y="562.5" text-anchor="middle" letter-spacing="1.2" textLength="26.67" lengthAdjust="spacingAndGlyphs">2437</text>
<text class="n" x="839.5" y="562.5" text-anchor="middle" letter-spacing="1.2" textLength="26.67" lengthAdjust="spacingAndGlyphs">2437</text>
<text class="n" x="889.5" y="562.5" text-anchor="middle" letter-spacing="1.2" textLength="26.67" lengthAdjust="spacingAndGlyphs">2437</text>
<text class="n" x="939.5" y="562.5" text-anchor="middle" letter-spacing="1.2" textLength="26.67" lengthAdjust="spacingAndGlyphs">2437</text>
<text class="n" x="989.5" y="562.5" text-anchor="middle" letter-spacing="1.2" textLength="26.67" lengthAdjust="spacingAndGlyphs">2437</text>
</svg></body></html>
